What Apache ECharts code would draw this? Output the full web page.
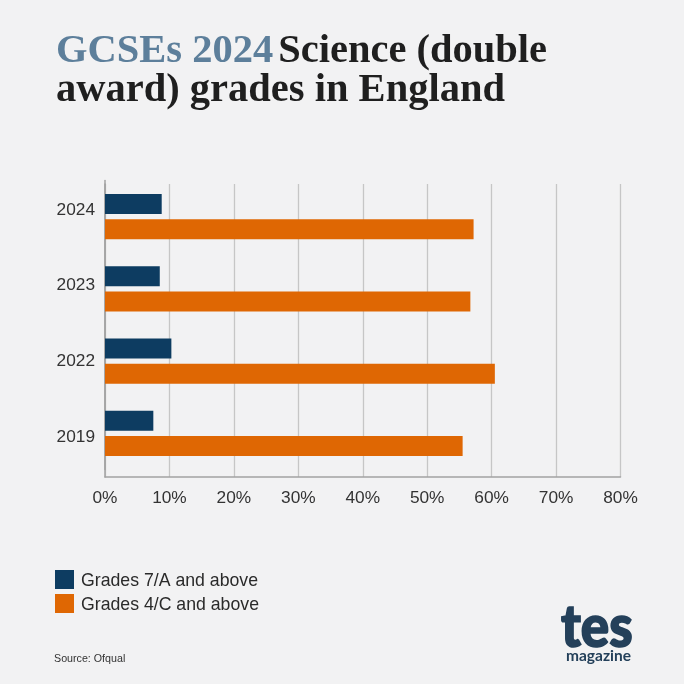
<!DOCTYPE html>
<html>
<head>
<meta charset="utf-8">
<style>
  html, body { margin: 0; padding: 0; background: #f2f2f3; }
  #chart { width: 684px; height: 684px; }
</style>
<script src="https://cdn.jsdelivr.net/npm/echarts@6/dist/echarts.min.js"></script>
</head>
<body>
<div id="chart"></div>
<script>
const years = ['2024', '2023', '2022', '2019'];
const grades7 = [8.8, 8.5, 10.3, 7.5];
const grades4 = [57.2, 56.7, 60.5, 55.5];
const xTicks = [0, 10, 20, 30, 40, 50, 60, 70, 80];

const sans = '"Liberation Sans", Arial, sans-serif';
const serif = '"Liberation Serif", serif';
const navy = '#0d3c61';
const orange = '#df6703';
const axisGrey = '#a3a3a3';
const logoBlue = '#24405a';

const chart = echarts.init(document.getElementById('chart'));
chart.setOption({
  backgroundColor: '#f2f2f3',
  animation: false,
  title: [
    {
      text: '{hl|GCSEs 2024} {dk|Science (double}\n{dk|award) grades in England}',
      left: 56, top: 32, padding: 0,
      textStyle: {
        rich: {
          hl: { fontFamily: serif, fontWeight: 'bold', fontSize: 40.5, lineHeight: 39, color: '#5d7f9b' },
          dk: { fontFamily: serif, fontWeight: 'bold', fontSize: 40.5, lineHeight: 39, color: '#1f1f1f' }
        }
      }
    },
    { text: 'Source: Ofqual', left: 54, top: 654, padding: 0,
      textStyle: { fontFamily: sans, fontWeight: 'normal', fontSize: 10.7, color: '#333' } }
  ],
  graphic: [
    { type: 'text', x: 561, y: 599, scaleY: 1.1, z: 5,
      style: { text: 'tes', fontFamily: 'Lato, sans-serif', fontWeight: 900, fontSize: 53,
        fill: logoBlue, stroke: logoBlue, lineWidth: 1.5 } },
    { type: 'text', x: 566, y: 648, z: 5,
      style: { text: 'magazine', fontFamily: 'Lato, sans-serif', fontWeight: 'bold', fontSize: 15.5, fill: logoBlue } }
  ],
  legend: {
    orient: 'vertical',
    left: 55, top: 570, padding: 0,
    itemWidth: 19, itemHeight: 19, itemGap: 3.5,
    icon: 'rect',
    selectedMode: false,
    formatter: '{a|{name}}',
    textStyle: {
      rich: { a: { fontFamily: sans, fontSize: 17.7, color: '#2a2a2a', padding: [4, 0, 0, 2] } }
    },
    data: ['Grades 7/A and above', 'Grades 4/C and above']
  },
  // bars, frame with x axis, and year labels each sit on their own grid
  grid: [
    { left: 105, width: 515.5, top: 180.5, height: 289 },
    { left: 105, width: 515.5, top: 184, height: 293 },
    { left: 105, width: 515.5, top: 172, height: 303 }
  ],
  xAxis: [
    { gridIndex: 0, type: 'value', min: 0, max: 80, show: false },
    {
      gridIndex: 1, type: 'value', min: 0, max: 80, interval: 10,
      axisLine: { show: true, onZero: false, lineStyle: { color: axisGrey, width: 1.5 } },
      axisTick: { show: false },
      axisLabel: {
        margin: 13, fontFamily: sans, fontSize: 17.3, color: '#333',
        formatter: v => xTicks.includes(v) ? v + '%' : ''
      },
      splitLine: { show: true, lineStyle: { color: '#c6c6c6', width: 1.3 } }
    },
    { gridIndex: 2, type: 'value', min: 0, max: 80, show: false }
  ],
  yAxis: [
    {
      gridIndex: 0, type: 'category', inverse: true, data: years,
      axisLine: { show: true, lineStyle: { color: axisGrey, width: 1.5 } },
      axisTick: { show: false },
      axisLabel: { show: false }
    },
    {
      gridIndex: 1, type: 'value', min: 0, max: 1,
      axisLine: { show: true, onZero: false, lineStyle: { color: axisGrey, width: 1.5 } },
      axisTick: { show: false },
      axisLabel: { show: false },
      splitLine: { show: false }
    },
    {
      gridIndex: 2, type: 'category', inverse: true, data: years,
      axisLine: { show: false },
      axisTick: { show: false },
      axisLabel: { margin: 10, fontFamily: sans, fontSize: 17.3, color: '#333' }
    }
  ],
  series: [
    { name: 'Grades 7/A and above', type: 'bar', xAxisIndex: 0, yAxisIndex: 0,
      data: grades7, barWidth: 20, barGap: '26%', itemStyle: { color: navy } },
    { name: 'Grades 4/C and above', type: 'bar', xAxisIndex: 0, yAxisIndex: 0,
      data: grades4, barWidth: 20, barGap: '26%', itemStyle: { color: orange } }
  ]
});
</script>
</body>
</html>
